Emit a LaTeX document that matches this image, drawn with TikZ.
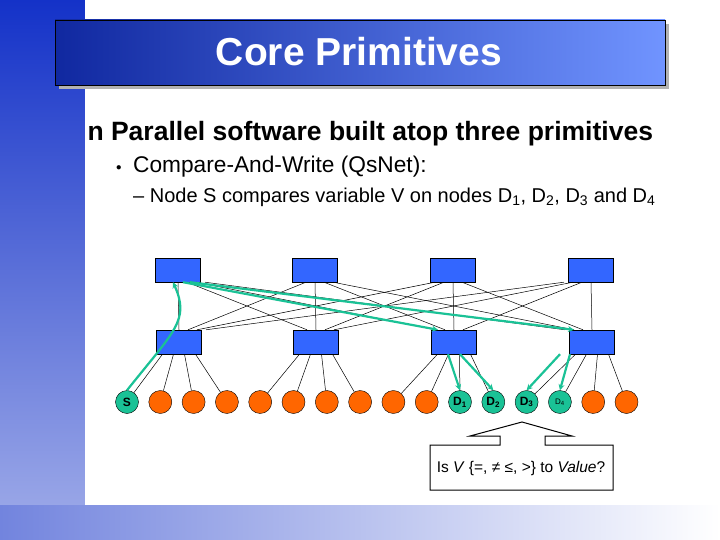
\documentclass[tikz,border=0pt]{standalone}
\usepackage{fontspec}
\setmainfont{Liberation Sans}
\usetikzlibrary{arrows.meta,calc}
\definecolor{sw}{RGB}{51,102,255}
\definecolor{lf}{RGB}{255,102,0}
\definecolor{gr}{RGB}{26,194,150}
\definecolor{bgb}{RGB}{20,50,200}
\begin{document}
\begin{tikzpicture}[x=1pt,y=-1pt,
  swbox/.style={draw=black,fill=sw,minimum width=45pt,minimum height=24pt,inner sep=0pt},
  leaf/.style={circle,draw=black,fill=lf,minimum size=23pt,inner sep=0pt,font=\bfseries\fontsize{12}{12}\selectfont},
  dleaf/.style={leaf,fill=gr},
  link/.style={black,line width=0.5pt},
  garrow/.style={gr,line width=2.2pt,-{Stealth[length=6pt,width=6pt]}}]
\useasboundingbox (0,0) rectangle (720,540);
\fill[white] (0,0) rectangle (720,540);
\shade[top color=bgb,bottom color=bgb!40!white] (0,0) rectangle (85,540);
\shade[left color=bgb!60!white,right color=white] (0,505) rectangle (720,540);
\fill[white] (85,0) rectangle (720,505);
% title
\fill[gray!60] (59,24) rectangle (669,89);
\shade[left color=bgb!80!black,right color=sw!70!white] (55,20) rectangle (665,85);
\draw[black] (55,20) rectangle (665,85);
\node[text=white,font=\bfseries\fontsize{39}{39}\selectfont] (title) at (359,52) {Core Primitives};
\node[anchor=west,font=\bfseries\fontsize{26.5}{26.5}\selectfont] (b1) at (84,134) {n Parallel software built atop three primitives};
\node[anchor=west,inner sep=0pt,font=\fontsize{11}{11}\selectfont] (bul) at (116,168) {$\bullet$};
\node[anchor=west,inner sep=0pt,font=\fontsize{22.7}{22.7}\selectfont] (b2) at (133,167) {Compare-And-Write (QsNet):};
\node[anchor=west,inner sep=0pt,font=\fontsize{20}{20}\selectfont] (b3) at (133,197) {-- Node S compares variable V on nodes D\textsubscript{1}, D\textsubscript{2}, D\textsubscript{3} and D\textsubscript{4}};
% switches
\foreach \i/\x in {1/178,2/315,3/453,4/591}{
  \node[swbox] (t\i) at (\x,270) {};
  \node[swbox] (b\i) at (\x+1,342) {};
}
% inter-switch links
\foreach \i in {1,...,4}{
  \foreach \j in {1,...,4}{
    \draw[link] ($(t\i.south)+({(\j-\i)*9},0)$) -- ($(b\j.north)+({(\i-\j)*9},0)$);
  }
}
% leaves
\foreach \k in {1,...,16}{
  \pgfmathsetmacro{\lx}{127+(\k-1)*33.3}
  \ifnum\k=1 \node[dleaf] (l\k) at (\lx,402) {S};
  \else\ifnum\k=11 \node[dleaf] (l\k) at (\lx,402) {D\textsubscript{1}};
  \else\ifnum\k=12 \node[dleaf] (l\k) at (\lx,402) {D\textsubscript{2}};
  \else\ifnum\k=13 \node[dleaf] (l\k) at (\lx,402) {D\textsubscript{3}};
  \else\ifnum\k=14 \node[dleaf,font=\fontsize{8}{8}\selectfont] (l\k) at (\lx,402) {D\textsubscript{4}};
  \else \node[leaf] (l\k) at (\lx,402) {};
  \fi\fi\fi\fi\fi
}
\foreach \s in {1,...,4}{
  \foreach \m in {1,...,4}{
    \pgfmathtruncatemacro{\k}{(\s-1)*4+\m}
    \draw[link] ($(b\s.south)+({(\m-2.5)*11},0)$) -- (l\k);
  }
}
% green arrows
\draw[garrow] (l1.north) .. controls (175,330) and (190,320) .. ($(t1.south)+(-5,0)$);
\draw[garrow] ($(t1.south)+(5,0)$) -- ($(b3.north)+(-16,0)$);
\draw[garrow] ($(t1.south)+(12,0)$) -- ($(b4.north)+(-18,0)$);
\draw[garrow] ($(b3.south)+(-6,0)$) -- (l11.north);
\draw[garrow] ($(b3.south)+(6,0)$) -- (l12.north);
\draw[garrow] ($(b4.south)+(-32,0)$) -- (l13.north);
\draw[garrow] ($(b4.south)+(-22,0)$) -- (l14.north);
% callout
\draw[black,line width=1pt,fill=white] (430,490) -- (430,445) -- (500,445) -- (500,436) -- (470,436) -- (522,422) -- (572,436) -- (545,436) -- (545,445) -- (613,445) -- (613,490) -- cycle;
\node[font=\fontsize{15.5}{15.5}\selectfont] (q) at (521,468) {Is \textit{V} \{=, ≠ ≤, >\} to \textit{Value}?};
\end{tikzpicture}
\end{document}
